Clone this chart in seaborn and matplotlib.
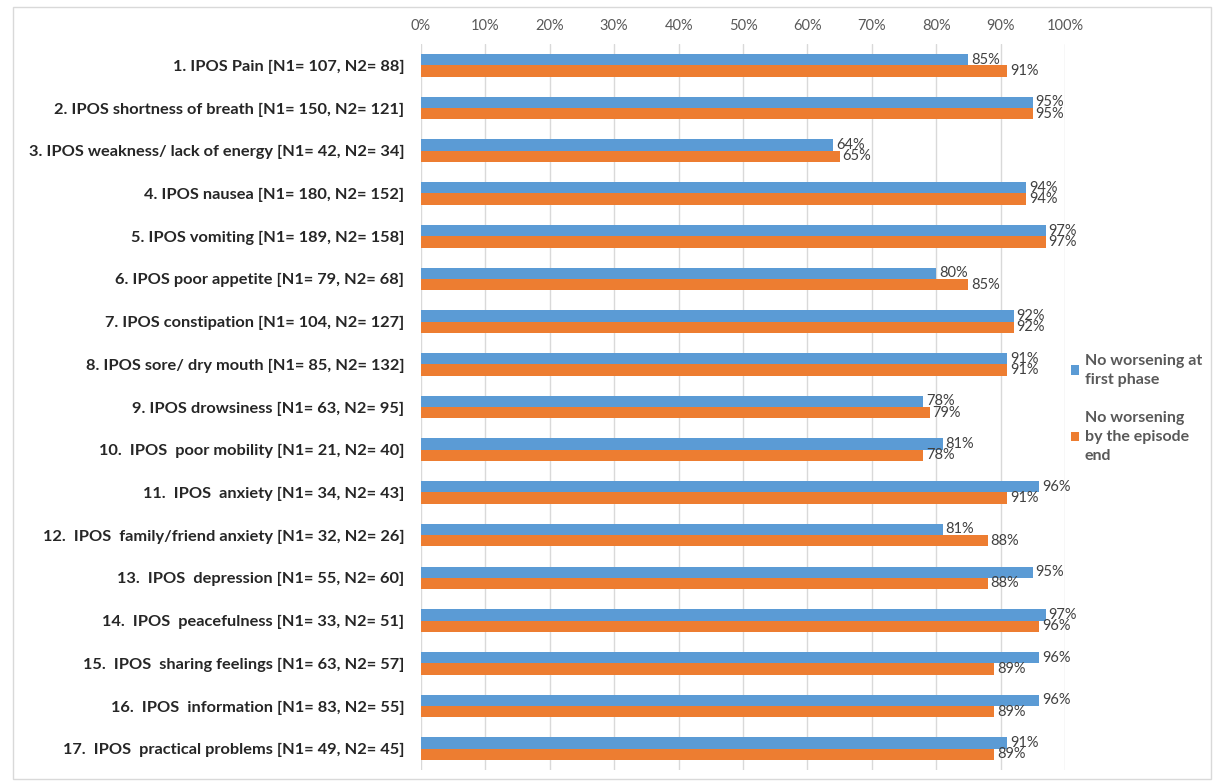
import matplotlib
matplotlib.use("Agg")
import matplotlib.pyplot as plt
from matplotlib.patches import Rectangle
import seaborn as sns
import pandas as pd

categories = [
    "1. IPOS Pain [N1= 107, N2= 88]",
    "2. IPOS shortness of breath [N1= 150, N2= 121]",
    "3. IPOS weakness/ lack of energy [N1= 42, N2= 34]",
    "4. IPOS nausea [N1= 180, N2= 152]",
    "5. IPOS vomiting [N1= 189, N2= 158]",
    "6. IPOS poor appetite [N1= 79, N2= 68]",
    "7. IPOS constipation [N1= 104, N2= 127]",
    "8. IPOS sore/ dry mouth [N1= 85, N2= 132]",
    "9. IPOS drowsiness [N1= 63, N2= 95]",
    "10.  IPOS  poor mobility [N1= 21, N2= 40]",
    "11.  IPOS  anxiety [N1= 34, N2= 43]",
    "12.  IPOS  family/friend anxiety [N1= 32, N2= 26]",
    "13.  IPOS  depression [N1= 55, N2= 60]",
    "14.  IPOS  peacefulness [N1= 33, N2= 51]",
    "15.  IPOS  sharing feelings [N1= 63, N2= 57]",
    "16.  IPOS  information [N1= 83, N2= 55]",
    "17.  IPOS  practical problems [N1= 49, N2= 45]",
]
first_phase = [85, 95, 64, 94, 97, 80, 92, 91, 78, 81, 96, 81, 95, 97, 96, 96, 91]
episode_end = [91, 95, 65, 94, 97, 85, 92, 91, 79, 78, 91, 88, 88, 96, 89, 89, 89]
series_names = ["No worsening at\nfirst phase", "No worsening\nby the episode\nend"]
tick_values = [0, 10, 20, 30, 40, 50, 60, 70, 80, 90, 100]

df = pd.concat([
    pd.DataFrame({"item": categories, "pct": first_phase, "series": series_names[0]}),
    pd.DataFrame({"item": categories, "pct": episode_end, "series": series_names[1]}),
])

sns.set_theme(style="white")
plt.rcParams["font.family"] = ["Lato", "DejaVu Sans"]

fig = plt.figure(figsize=(12.14, 7.84), dpi=100)
ax = fig.add_axes([0.3468, 0.01786, 0.5305, 0.926])

palette = {series_names[0]: "#5B9BD5", series_names[1]: "#ED7D31"}
sns.barplot(data=df, y="item", x="pct", hue="series", orient="h",
            palette=palette, width=0.53, saturation=1, linewidth=0,
            ax=ax, legend=True, zorder=3)

ax.set_xlim(0, 100)
ax.set_xticks(tick_values)
ax.set_xticklabels([f"{t}%" for t in tick_values])
ax.xaxis.tick_top()
ax.tick_params(axis="x", length=0, pad=8, labelsize=10.5, labelcolor="#595959")
ax.tick_params(axis="y", length=0, pad=12, labelsize=11.8, labelcolor="#262626")
for lbl in ax.get_yticklabels():
    lbl.set_fontweight("bold")
ax.set_xlabel("")
ax.set_ylabel("")
ax.grid(axis="x", color="#d9d9d9", linewidth=1, zorder=0)
ax.grid(axis="y", visible=False)
for s in ax.spines.values():
    s.set_visible(False)

for container in ax.containers:
    ax.bar_label(container, labels=[f"{v:.0f}%" for v in container.datavalues],
                 padding=2, fontsize=10.5, color="#404040")

handles, labels = ax.get_legend_handles_labels()
ax.legend_.remove()
leg = fig.legend(handles, labels, loc="upper left", bbox_to_anchor=(0.870, 0.567),
                 frameon=False, handlelength=0.55, handleheight=0.55, handletextpad=0.35,
                 labelspacing=1.5, prop={"size": 11.5, "weight": "bold"},
                 labelcolor="#595959")
for t in leg.get_texts():
    t.set_linespacing(1.45)

fig.add_artist(Rectangle((13 / 1214, 5 / 784), 1198 / 1214, 772 / 784,
                         transform=fig.transFigure, fill=False,
                         edgecolor="#d9d9d9", linewidth=1))

fig.savefig("out.png", dpi=100)
